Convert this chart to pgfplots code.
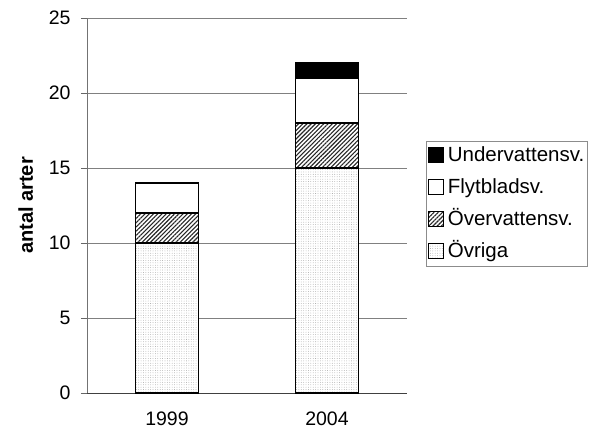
\documentclass[border=0pt]{standalone}
\usepackage{pgfplots}
\pgfplotsset{compat=1.18}
\usepackage{fontspec}
\setmainfont{Liberation Sans}
\usetikzlibrary{patterns,patterns.meta}
\begin{document}
\begin{tikzpicture}
\begin{axis}[
  name=main,
  scale only axis,
  width=320bp, height=375bp,
  ybar stacked,
  bar width=63bp,
  xmin=-0.5, xmax=1.5,
  ymin=0, ymax=25,
  ytick={0,5,10,15,20,25},
  xtick={0,1},
  xticklabels={1999,2004},
  major x tick style={draw=none},
  extra x ticks={-0.5,0.5,1.5},
  extra x tick labels={},
  extra x tick style={major tick length=6bp, tick style={draw=black!65, line width=0.8pt}, grid=none},
  axis x line*=bottom,
  axis y line*=left,
  x axis line style={line width=0.9pt, black!75, -},
  y axis line style={line width=0.9pt, black!55, -},
  tick align=outside,
  major tick length=6bp,
  y tick style={draw=black!60, line width=0.8pt},
  ymajorgrids,
  grid style={black!50, line width=0.9pt},
  tick label style={font=\fontsize{19.5bp}{23bp}\selectfont},
  yticklabel style={xshift=-7bp},
  xticklabel style={yshift=-9bp},
  /pgf/number format/assume math mode=true,
  ylabel={\textbf{antal arter}},
  ylabel style={font=\fontsize{20bp}{24bp}\selectfont, yshift=9bp},
  reverse legend,
  legend style={at={(1.06,0.503)}, anchor=west, draw=black!45, line width=0.8pt,
    font=\fontsize{20.5bp}{24bp}\selectfont, row sep=11bp, inner xsep=1.5bp, inner ysep=4bp,
    nodes={text height=14bp, text depth=4bp, inner sep=1.5bp},
    cells={anchor=west}},
  legend image code/.code={\draw[#1, line width=1.3pt] (0bp,-6bp) rectangle (15bp,9bp);},
  legend cell align=left,
]
\addplot+[draw=black, line width=1.6pt, fill=white, postaction={pattern={Dots[distance=2.4pt, radius=0.4pt]}, pattern color=gray!75}] coordinates {(0,10) (1,15)};
\addlegendentry{\hspace{2bp}Övriga}
\addplot+[draw=black, line width=1.6pt, fill=white, postaction={pattern={Lines[angle=45, distance=3pt, line width=1.1pt]}, pattern color=black!85}] coordinates {(0,2) (1,3)};
\addlegendentry{\hspace{2bp}Övervattensv.}
\addplot+[draw=black, line width=1.6pt, fill=white] coordinates {(0,2) (1,3)};
\addlegendentry{\hspace{2bp}Flytbladsv.}
\addplot+[draw=black, line width=1.6pt, fill=black] coordinates {(0,0) (1,1)};
\addlegendentry{\hspace{2bp}Undervattensv.\hspace{12bp}}
\end{axis}
\pgfresetboundingbox
\path (main.south west) ++(-87bp,-42bp) rectangle ++(607bp,435bp);
\end{tikzpicture}
\end{document}
